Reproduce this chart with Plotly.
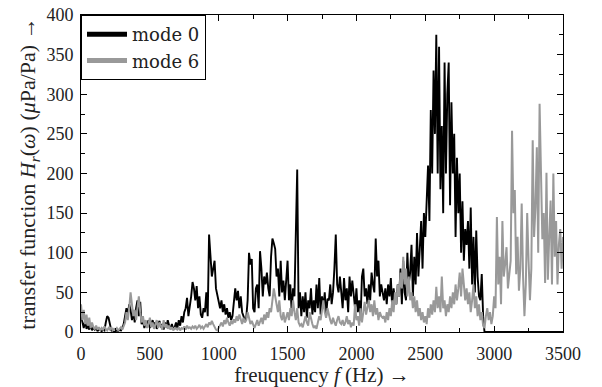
import numpy as np
import plotly.graph_objects as go

# frequency grid (Hz), 10 Hz spacing
freq = np.arange(0, 3501, 10)

# mode 0 transfer function (uPa/Pa)
mode0 = [
    20, 12, 5, 14, 4, 8, 3, 10, 2, 6,
    3, 5, 1, 4, 2, 1, 3, 2, 12, 20,
    18, 8, 2, 1, 0, 1, 2, 1, 3, 2,
    5, 10, 18, 30, 22, 35, 28, 15, 25, 12,
    30, 40, 20, 38, 10, 15, 5, 12, 8, 15,
    5, 10, 15, 8, 12, 4, 9, 14, 6, 10,
    3, 12, 6, 15, 8, 4, 10, 3, 6, 12,
    5, 15, 8, 20, 12, 25, 30, 43, 20, 30,
    45, 63, 55, 40, 58, 30, 45, 22, 18, 30,
    25, 50, 20, 123, 95, 70, 80, 90, 55, 45,
    35, 30, 40, 25, 35, 22, 30, 18, 25, 15,
    20, 35, 55, 40, 52, 30, 45, 25, 20, 15,
    18, 40, 100, 85, 92, 30, 25, 55, 60, 30,
    102, 80, 45, 70, 60, 75, 55, 45, 95, 118,
    112, 105, 70, 80, 45, 90, 50, 65, 40, 60,
    90, 40, 60, 25, 55, 45, 120, 205, 30, 50,
    20, 45, 25, 50, 18, 40, 30, 55, 22, 40,
    25, 60, 30, 68, 22, 45, 30, 50, 20, 42,
    40, 60, 35, 50, 80, 123, 60, 50, 70, 45,
    30, 68, 40, 55, 25, 70, 45, 65, 50, 30,
    55, 25, 40, 15, 70, 80, 45, 55, 35, 60,
    40, 75, 60, 50, 118, 70, 90, 45, 60, 50,
    40, 55, 35, 60, 45, 68, 30, 55, 40, 35,
    60, 45, 80, 35, 90, 50, 40, 100, 60, 75,
    110, 45, 95, 60, 125, 70, 105, 140, 80, 150,
    120, 165, 210, 140, 280, 200, 330, 250, 375, 200,
    360, 180, 260, 150, 340, 200, 300, 340, 160, 290,
    200, 250, 120, 220, 150, 200, 100, 165, 90, 130,
    110, 140, 80, 157, 60, 120, 50, 128, 70, 45,
    40, 73, 20, 0, 0, 0, 0, 0, 0, 0,
    0, 0, 0, 0, 0, 0, 0, 0, 0, 0,
    0, 0, 0, 0, 0, 0, 0, 0, 0, 0,
    0, 0, 0, 0, 0, 0, 0, 0, 0, 0,
    0, 0, 0, 0, 0, 0, 0, 0, 0, 0,
    0, 0, 0, 0, 0, 0, 0, 0, 0, 0,
    0,
]

# mode 6 transfer function (uPa/Pa)
mode6 = [
    35, 15, 28, 10, 22, 8, 18, 5, 12, 6,
    4, 8, 3, 6, 2, 5, 3, 7, 4, 2,
    5, 3, 6, 2, 4, 3, 5, 2, 4, 6,
    3, 8, 12, 25, 15, 30, 50, 35, 20, 28,
    15, 30, 45, 25, 12, 20, 8, 15, 5, 10,
    18, 6, 12, 4, 10, 15, 5, 12, 8, 3,
    15, 6, 10, 4, 8, 3, 6, 2, 5, 4,
    3, 6, 2, 5, 4, 7, 3, 8, 5, 6,
    4, 7, 5, 8, 4, 6, 9, 5, 7, 4,
    8, 10, 6, 12, 9, 14, 10, 6, 3, 2,
    5, 8, 12, 7, 15, 10, 18, 12, 8, 14,
    10, 16, 12, 20, 14, 22, 15, 10, 18, 12,
    15, 25, 18, 10, 14, 8, 5, 10, 15, 8,
    12, 18, 10, 22, 15, 25, 18, 30, 25, 40,
    55, 45, 35, 25, 40, 20, 15, 25, 12, 18,
    25, 15, 30, 20, 40, 25, 15, 30, 12, 8,
    10, 6, 15, 20, 12, 8, 25, 15, 10, 5,
    8, 4, 12, 20, 15, 30, 40, 25, 18, 30,
    20, 15, 10, 18, 12, 8, 15, 20, 12, 10,
    15, 8, 12, 20, 10, 15, 6, 12, 8, 35,
    15, 20, 8, 30, 12, 25, 38, 22, 30, 40,
    25, 35, 20, 40, 22, 30, 15, 25, 20, 18,
    20, 12, 25, 15, 30, 20, 40, 25, 50, 35,
    60, 45, 75, 55, 95, 60, 80, 45, 70, 40,
    50, 30, 45, 25, 40, 20, 30, 15, 25, 12,
    20, 10, 30, 18, 35, 22, 40, 25, 57, 30,
    45, 25, 70, 30, 40, 20, 35, 25, 45, 30,
    50, 35, 60, 40, 55, 75, 45, 80, 60, 40,
    55, 35, 50, 25, 40, 60, 30, 45, 20, 35,
    15, 25, 8, 5, 20, 30, 15, 25, 10, 20,
    45, 30, 145, 60, 95, 35, 140, 70, 86, 107,
    55, 70, 90, 254, 150, 179, 73, 120, 52, 80,
    162, 70, 20, 60, 150, 90, 40, 80, 242, 120,
    157, 233, 100, 288, 179, 117, 150, 62, 201, 66,
    120, 166, 60, 200, 95, 140, 60, 110, 130, 80,
    120,
]

series_names = ["mode 0", "mode 6"]
x_ticks = [0, 500, 1000, 1500, 2000, 2500, 3000, 3500]
y_ticks = [0, 50, 100, 150, 200, 250, 300, 350, 400]

BLACK = "#000000"
GRAY = "#999999"
FONT = "'Liberation Serif', 'DejaVu Serif', serif"
LEGEND_FONT = "'DejaVu Serif', serif"
TXT = "#222222"

fig = go.Figure()
fig.add_trace(go.Scatter(x=freq, y=mode0, mode="lines", showlegend=False,
                         line=dict(color=BLACK, width=1.9)))
fig.add_trace(go.Scatter(x=freq, y=mode6, mode="lines", showlegend=False,
                         line=dict(color=GRAY, width=2)))
# legend entries with thick sample lines
fig.add_trace(go.Scatter(x=[None], y=[None], mode="lines", name=series_names[0],
                         line=dict(color=BLACK, width=5)))
fig.add_trace(go.Scatter(x=[None], y=[None], mode="lines", name=series_names[1],
                         line=dict(color=GRAY, width=5)))

axis_common = dict(showline=True, linecolor="black", linewidth=1, mirror="allticks",
                   ticks="inside", ticklen=6, tickcolor="black", showgrid=False,
                   zeroline=False, automargin=False,
                   tickfont=dict(family=FONT, size=18, color=TXT))

fig.update_xaxes(range=[0, 3500], tickvals=x_ticks, ticklabelstandoff=5,
                 minor=dict(ticks="inside", ticklen=4, dtick=250, tickcolor="black", showgrid=False),
                 title=dict(text="freuquency <i>f</i> (Hz) →", font=dict(family=FONT, size=21, color=TXT),
                            standoff=0),
                 **axis_common)
fig.update_yaxes(range=[0, 400], tickvals=y_ticks, ticklabelstandoff=3,
                 minor=dict(ticks="inside", ticklen=4, dtick=25, tickcolor="black", showgrid=False),
                 title=dict(text="transfer function <i>H<sub>r</sub></i>(<i>ω</i>) (<i>μ</i>Pa/Pa) →",
                            font=dict(family=FONT, size=22, color=TXT), standoff=4),
                 **axis_common)

fig.update_layout(
    width=602, height=387,
    margin=dict(l=81, r=39, t=15, b=55),
    plot_bgcolor="white", paper_bgcolor="white",
    legend=dict(x=0, y=1, xanchor="left", yanchor="top",
                bordercolor="black", borderwidth=1, bgcolor="white",
                font=dict(family=LEGEND_FONT, size=18, color=TXT),
                itemwidth=40, tracegroupgap=0),
)

fig.write_html("out.html")
